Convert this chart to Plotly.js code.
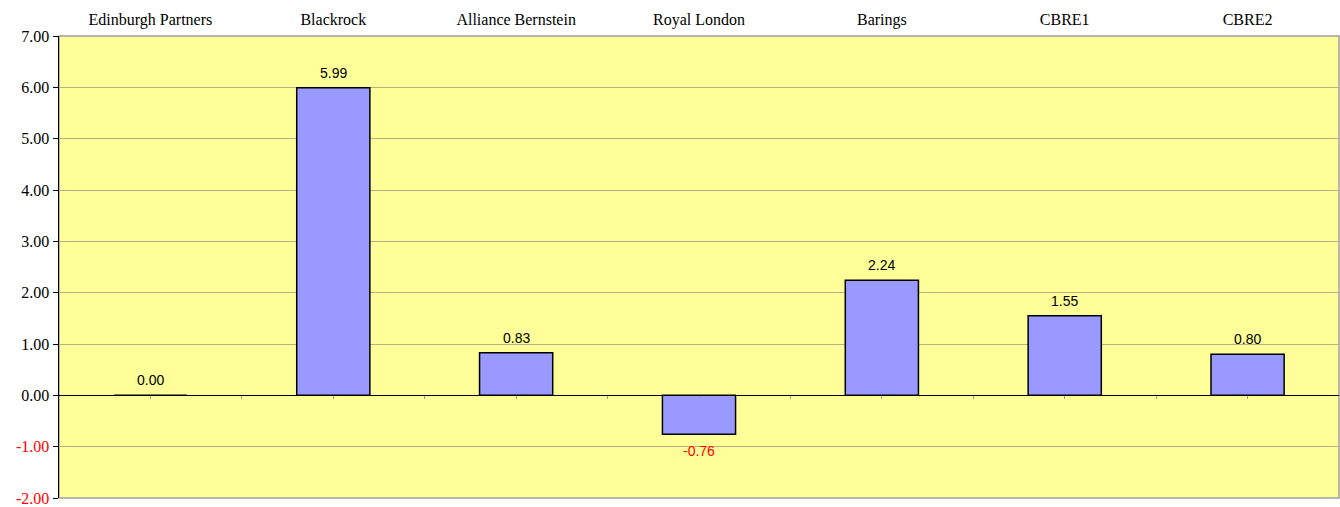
<!DOCTYPE html>
<html>
<head>
<meta charset="utf-8">
<script src="https://cdn.plot.ly/plotly-3.0.1.min.js"></script>
<style>html,body{margin:0;padding:0;background:#fff;}#chart{width:1340px;height:507px;}</style>
</head>
<body>
<div id="chart"></div>
<script>
var categories = ["Edinburgh Partners", "Blackrock", "Alliance Bernstein", "Royal London", "Barings", "CBRE1", "CBRE2"];
var values = [0.00, 5.99, 0.83, -0.76, 2.24, 1.55, 0.80];
var yTickValues = [-2, -1, 0, 1, 2, 3, 4, 5, 6, 7];
var yTickLabels = ['<span style="color:#ff0000">-2.00</span>', '<span style="color:#ff0000">-1.00</span>', '0.00', '1.00', '2.00', '3.00', '4.00', '5.00', '6.00', '7.00'];

var catIdx = categories.map(function (c, i) { return i; });
var zeroTicks = [];
catIdx.forEach(function (i) { zeroTicks.push(i); if (i < categories.length - 1) zeroTicks.push(i + 0.5); });

var traces = [
  {
    type: 'bar',
    x: categories,
    y: values,
    marker: { color: '#9999ff', line: { color: '#000000', width: 1.5 } },
    hoverinfo: 'x+y'
  },
  {
    type: 'scatter',
    x: catIdx,
    y: values.map(function () { return null; }),
    xaxis: 'x2',
    yaxis: 'y',
    mode: 'markers',
    showlegend: false,
    hoverinfo: 'skip'
  }
];

var annotations = categories.map(function (c, i) {
  var v = values[i];
  var neg = v < 0;
  return {
    x: c, y: v, xref: 'x', yref: 'y',
    text: v.toFixed(2),
    showarrow: false,
    yanchor: neg ? 'top' : 'bottom',
    yshift: neg ? -7 : 5,
    font: { family: 'Liberation Sans, Arial, sans-serif', size: 14, color: neg ? '#ff0000' : '#000000' }
  };
});

var layout = {
  width: 1340,
  height: 507,
  margin: { l: 59, r: 1, t: 36, b: 9 },
  paper_bgcolor: '#ffffff',
  plot_bgcolor: '#ffff99',
  showlegend: false,
  bargap: 0.6,
  font: { family: 'Liberation Serif, Times New Roman, serif', size: 16, color: '#000000' },
  annotations: annotations,
  xaxis: {
    type: 'category',
    side: 'top',
    categoryarray: categories,
    showgrid: false,
    zeroline: false,
    showline: false,
    ticks: '',
    ticklabelstandoff: 7,
    tickfont: { family: 'Liberation Serif, Times New Roman, serif', size: 16, color: '#000000' },
    fixedrange: true
  },
  xaxis2: {
    overlaying: 'x',
    anchor: 'free',
    position: 2 / 9,
    side: 'bottom',
    range: [-0.5, categories.length - 0.5],
    tickmode: 'array',
    tickvals: zeroTicks,
    showticklabels: false,
    ticks: 'outside',
    ticklen: 3,
    tickwidth: 1,
    tickcolor: '#999999',
    showgrid: false,
    zeroline: false,
    showline: false,
    fixedrange: true
  },
  yaxis: {
    range: [-2, 7],
    tickmode: 'array',
    tickvals: yTickValues,
    ticktext: yTickLabels,
    ticklabeloverflow: 'allow',
    tickfont: { family: 'Liberation Serif, Times New Roman, serif', size: 16, color: '#000000' },
    ticks: 'outside',
    ticklen: 5,
    tickwidth: 1,
    tickcolor: '#000000',
    showline: true,
    linecolor: '#000000',
    linewidth: 1.5,
    showgrid: true,
    gridcolor: '#b5b283',
    gridwidth: 1,
    zeroline: true,
    zerolinecolor: '#000000',
    zerolinewidth: 1.5,
    fixedrange: true
  },
  shapes: [
    { type: 'rect', xref: 'paper', yref: 'paper', x0: 0, x1: 1, y0: 0, y1: 1,
      line: { color: '#a0a0a0', width: 1.5 }, fillcolor: 'rgba(0,0,0,0)', layer: 'below' }
  ]
};

Plotly.newPlot('chart', traces, layout, { displayModeBar: false, staticPlot: true });
</script>
</body>
</html>
